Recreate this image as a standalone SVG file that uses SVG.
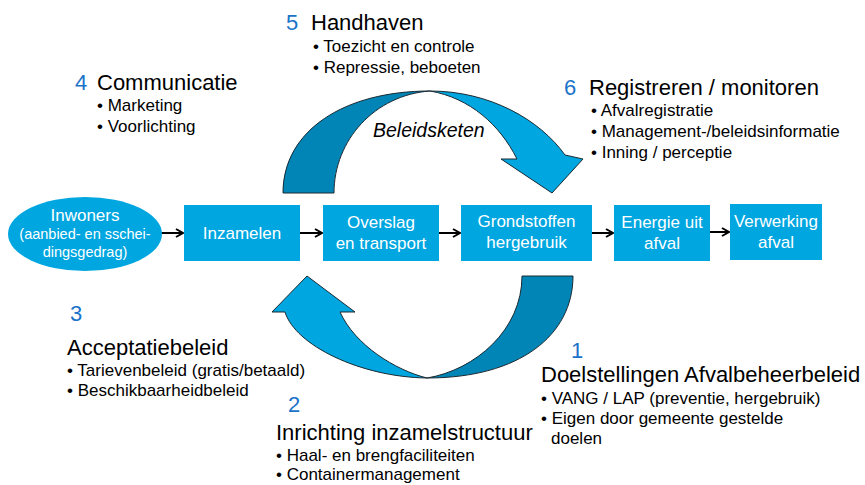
<svg xmlns="http://www.w3.org/2000/svg" width="865" height="485" viewBox="0 0 865 485">
<defs>
<style>
text{font-family:"Liberation Sans",Arial,sans-serif;}
.box{fill:#00A6E0;}
.bt{fill:#fff;font-size:17px;text-anchor:middle;}
.num{fill:#1a73c9;font-size:22px;}
.ttl{fill:#000;font-size:22px;}
.bul{fill:#000;font-size:17px;}
.light{fill:#00A6E0;stroke:#1a2a33;stroke-width:1;stroke-linejoin:miter;}
.dark{fill:#0085B6;stroke:#1a2a33;stroke-width:1;stroke-linejoin:miter;}
.con{stroke:#000;stroke-width:2;fill:none;marker-end:url(#ah);}
</style>
<marker id="ah" markerWidth="10" markerHeight="10" refX="8" refY="5" orient="auto" markerUnits="userSpaceOnUse">
<path d="M1,1 L8,5 L1,9" fill="none" stroke="#000" stroke-width="2"/>
</marker>
</defs>
<rect width="865" height="485" fill="#fff"/>

<g id="cycle-top">
<path class="dark" d="M283,193 C283,130 345,91 430,91 C375,95 334,140 334,193 Z"/>
<path class="light" d="M430,91 C490,91 540,120 565,155 L583,159 L552,193 L501,159 L517,159 C500,125 470,98 430,91 Z"/>
<text x="373" y="137" style="font-size:19.5px;font-style:italic;fill:#000">Beleidsketen</text>
</g>
<g id="cycle-bottom">
<path class="dark" d="M522,276 L573,276 C573,335 520,378 427,378 C475,370 522,330 522,276 Z"/>
<path class="light" d="M427,378 C360,377 295,345 285,312 L272,312 L307,276 L355,312 L340,312 C355,345 395,370 427,378 Z"/>
</g>

<g id="connectors">
<line class="con" x1="161" y1="233" x2="183" y2="233"/>
<line class="con" x1="300" y1="233" x2="322" y2="233"/>
<line class="con" x1="439" y1="233" x2="460" y2="233"/>
<line class="con" x1="592" y1="233" x2="613" y2="233"/>
<line class="con" x1="710" y1="232" x2="729" y2="232"/>
</g>

<g id="inwoners">
<ellipse class="box" cx="85" cy="234" rx="77" ry="37"/>
<text class="bt" x="85" y="221">Inwoners</text>
<text class="bt" x="85" y="239" style="font-size:14.5px">(aanbied- en sschei-</text>
<text class="bt" x="85" y="257" style="font-size:14.5px">dingsgedrag)</text>
</g>
<g id="inzamelen">
<rect class="box" x="184" y="205" width="116" height="56"/>
<text class="bt" x="242" y="239">Inzamelen</text>
</g>
<g id="overslag">
<rect class="box" x="323" y="205" width="116" height="56"/>
<text class="bt" x="381" y="228">Overslag</text>
<text class="bt" x="381" y="249">en transport</text>
</g>
<g id="grondstoffen">
<rect class="box" x="461" y="205" width="131" height="56"/>
<text class="bt" x="526.5" y="227">Grondstoffen</text>
<text class="bt" x="526.5" y="248">hergebruik</text>
</g>
<g id="energie">
<rect class="box" x="614" y="205" width="96" height="56"/>
<text class="bt" x="662" y="228">Energie uit</text>
<text class="bt" x="662" y="249">afval</text>
</g>
<g id="verwerking">
<rect class="box" x="730" y="204" width="92" height="56"/>
<text class="bt" x="776" y="227">Verwerking</text>
<text class="bt" x="776" y="248">afval</text>
</g>

<g id="label-5">
<text class="num" x="286" y="30">5</text>
<text class="ttl" x="311" y="30">Handhaven</text>
<text class="bul" x="313" y="52">• Toezicht en controle</text>
<text class="bul" x="313" y="73">• Repressie, beboeten</text>
</g>
<g id="label-4">
<text class="num" x="75" y="90">4</text>
<text class="ttl" x="97" y="90">Communicatie</text>
<text class="bul" x="97" y="111">• Marketing</text>
<text class="bul" x="97" y="132">• Voorlichting</text>
</g>
<g id="label-6">
<text class="num" x="564" y="95">6</text>
<text class="ttl" x="589" y="95">Registreren / monitoren</text>
<text class="bul" x="591" y="116">• Afvalregistratie</text>
<text class="bul" x="591" y="137">• Management-/beleidsinformatie</text>
<text class="bul" x="591" y="158">• Inning / perceptie</text>
</g>
<g id="label-3">
<text class="num" x="70" y="321">3</text>
<text class="ttl" x="67" y="355">Acceptatiebeleid</text>
<text class="bul" x="67" y="376">• Tarievenbeleid (gratis/betaald)</text>
<text class="bul" x="67" y="396">• Beschikbaarheidbeleid</text>
</g>
<g id="label-2">
<text class="num" x="288" y="412">2</text>
<text class="ttl" x="276" y="440">Inrichting inzamelstructuur</text>
<text class="bul" x="276" y="461">• Haal- en brengfaciliteiten</text>
<text class="bul" x="276" y="480">• Containermanagement</text>
</g>
<g id="label-1">
<text class="num" x="571" y="358">1</text>
<text class="ttl" x="541" y="382">Doelstellingen Afvalbeheerbeleid</text>
<text class="bul" x="541" y="404">• VANG / LAP (preventie, hergebruik)</text>
<text class="bul" x="541" y="424">• Eigen door gemeente gestelde</text>
<text class="bul" x="551" y="444">doelen</text>
</g>
</svg>
